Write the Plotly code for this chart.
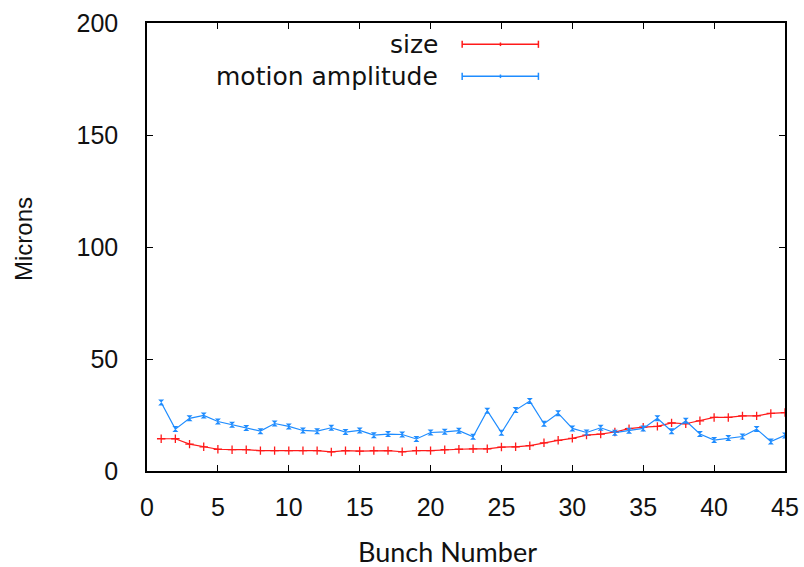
import plotly.graph_objects as go

bunch = list(range(1, 46))
size_um = [14.4, 14.4, 12.0, 10.8, 9.7, 9.5, 9.5, 9.1, 9.1, 9.1, 9.1, 9.1, 8.5, 9.1, 8.9,
           9.1, 9.1, 8.6, 9.1, 9.1, 9.5, 9.7, 9.9, 9.9, 10.7, 10.8, 11.3, 12.6, 13.7, 14.6,
           16.0, 16.5, 17.4, 18.9, 19.6, 19.9, 21.5, 21.1, 22.4, 23.9, 23.9, 24.6, 24.6, 25.7, 26.1]
motion_um = [30.6, 18.7, 23.5, 24.8, 22.1, 20.6, 19.2, 17.8, 21.2, 19.9, 18.1, 17.8, 19.3, 17.4, 18.1,
             16.0, 16.5, 16.3, 14.3, 17.2, 17.5, 18.0, 15.3, 26.9, 17.1, 27.2, 31.2, 21.1, 25.8, 19.0,
             17.2, 19.3, 17.1, 18.0, 19.0, 23.5, 17.8, 22.4, 16.5, 13.8, 14.7, 15.4, 18.7, 13.2, 15.9]
series_names = ["size", "motion amplitude"]
colors = ["#ff1a1a", "#1e8cff"]
x_ticks = [0, 5, 10, 15, 20, 25, 30, 35, 40, 45]
y_ticks = [0, 50, 100, 150, 200]

fig = go.Figure()
fig.add_trace(go.Scatter(x=bunch, y=size_um, mode="lines+markers", name=series_names[0],
                         line=dict(color=colors[0], width=1.2),
                         marker=dict(symbol="cross-thin", size=6, line=dict(color=colors[0], width=1.3)),
                         showlegend=False))
fig.add_trace(go.Scatter(x=bunch, y=motion_um, mode="lines+markers", name=series_names[1],
                         line=dict(color=colors[1], width=1.2),
                         marker=dict(symbol="hourglass", size=6, color=colors[1]),
                         showlegend=False))

axis_common = dict(showline=True, linecolor="black", linewidth=1.5, mirror="ticks",
                   ticks="inside", ticklen=6, tickcolor="black", tickwidth=1,
                   showgrid=False, zeroline=False, automargin=False,
                   tickfont=dict(family="Liberation Sans, Arial", size=25, color="#111"))
fig.update_xaxes(range=[0, 45], tickvals=x_ticks, ticklabelstandoff=13, **axis_common)
fig.update_yaxes(range=[0, 200], tickvals=y_ticks, ticklabelstandoff=22, **axis_common)

# legend drawn gnuplot-style: text, then sample
legend_y = [0.9525, 0.881]
for name, col, ly in zip(series_names, colors, legend_y):
    fig.add_annotation(xref="paper", yref="paper", x=0.4595, y=ly, text=name, showarrow=False,
                       xanchor="right", yanchor="middle",
                       font=dict(family="DejaVu Sans", size=25, color="#111"))
    fig.add_shape(type="line", xref="paper", yref="paper", x0=0.494, x1=0.6135, y0=ly, y1=ly,
                  line=dict(color=col, width=1.5))
    for xc, h in ((0.494, 0.008), (0.6135, 0.008), (0.554, 0.004)):
        fig.add_shape(type="line", xref="paper", yref="paper", x0=xc, x1=xc, y0=ly - h, y1=ly + h,
                      line=dict(color=col, width=1.5))

fig.add_annotation(xref="paper", yref="paper", x=-0.1938, y=0.5186, text="Microns", showarrow=False,
                   textangle=-90, xanchor="center", yanchor="middle",
                   font=dict(family="Liberation Sans, Arial", size=24, color="#111"))
fig.add_annotation(xref="paper", yref="paper", x=0.4705, y=-0.1807, text="Bunch Number", showarrow=False,
                   xanchor="center", yanchor="middle",
                   font=dict(family="Lato, Open Sans", size=27, color="#111"))

fig.update_layout(width=804, height=567, margin=dict(l=147, r=19, t=23, b=96),
                  paper_bgcolor="white", plot_bgcolor="white")
fig.write_html("out.html")
